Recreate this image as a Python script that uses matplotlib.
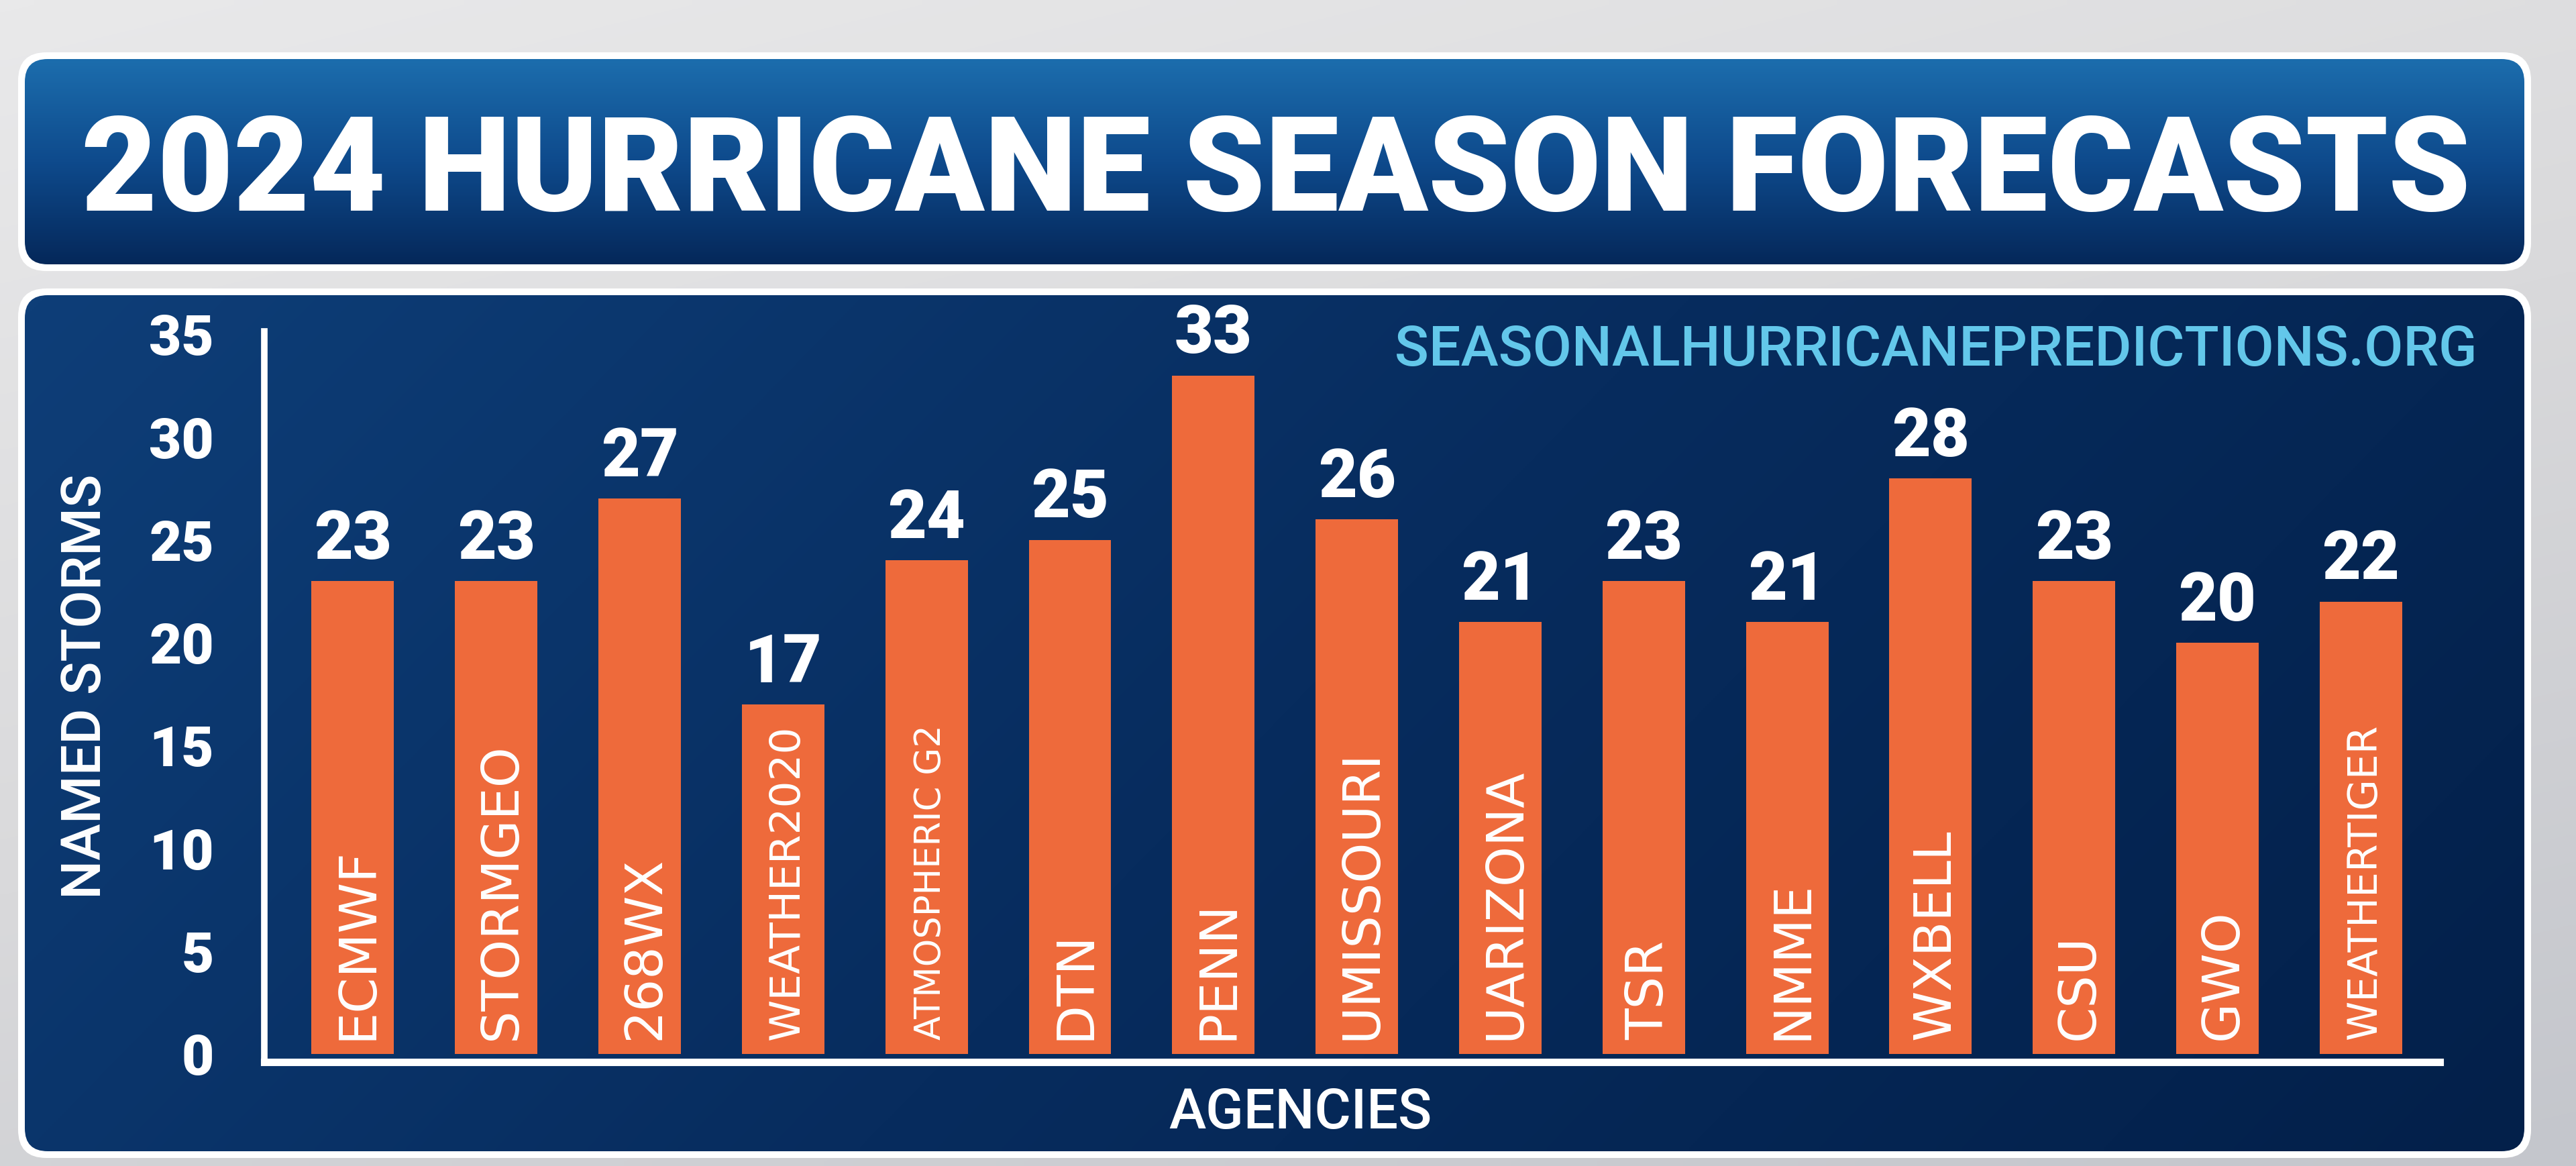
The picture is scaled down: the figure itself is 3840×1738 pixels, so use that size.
import matplotlib.pyplot as plt
import numpy as np
from matplotlib.colors import LinearSegmentedColormap
from matplotlib.patches import FancyBboxPatch

# DATA
agencies = ['ECMWF', 'STORMGEO', '268WX', 'WEATHER2020', 'ATMOSPHERIC G2', 'DTN', 'PENN',
            'UMISSOURI', 'UARIZONA', 'TSR', 'NMME', 'WXBELL', 'CSU', 'GWO', 'WEATHERTIGER']
named_storms = [23, 23, 27, 17, 24, 25, 33, 26, 21, 23, 21, 28, 23, 20, 22]
y_ticks = [0, 5, 10, 15, 20, 25, 30, 35]
title = '2024 HURRICANE SEASON FORECASTS'
source = 'SEASONALHURRICANEPREDICTIONS.ORG'

W, H = 3840, 1738
fig = plt.figure(figsize=(W / 100, H / 100), dpi=100)

# background layer in pixel coordinates (y downwards)
bg = fig.add_axes([0, 0, 1, 1], zorder=0)
bg.axis('off')


def grad_image(x0, y0, x1, y1, stops, wx, wy, clip=None, zorder=2):
    yy, xx = np.mgrid[0:1:120j, 0:1:240j]
    t = np.clip(wx * xx + wy * yy, 0, 1)
    cmap = LinearSegmentedColormap.from_list('g', stops)
    im = bg.imshow(t, cmap=cmap, vmin=0, vmax=1, extent=(x0, x1, y1, y0),
                   aspect='auto', interpolation='bilinear', zorder=zorder)
    if clip is not None:
        im.set_clip_path(clip)
    return im


def panel(x0, y0, x1, y1, stops, wx, wy):
    border = FancyBboxPatch((x0 - 10, y0 - 10), x1 - x0 + 20, y1 - y0 + 20,
                            boxstyle='round,pad=0,rounding_size=42',
                            fc='white', ec='none', zorder=1)
    bg.add_patch(border)
    clip = FancyBboxPatch((x0, y0), x1 - x0, y1 - y0,
                          boxstyle='round,pad=0,rounding_size=34',
                          fc='none', ec='none', zorder=2)
    bg.add_patch(clip)
    grad_image(x0, y0, x1, y1, stops, wx, wy, clip=clip)


# grey studio backdrop
grad_image(0, 0, W, H, ['#e9e9ea', '#d9d9db', '#c4c6cc'], 0.35, 0.65, zorder=0)

# title banner and chart panel
panel(37, 88, 3763, 394, ['#1c6dad', '#0e4a8c', '#05285a'], 0.0, 1.0)
panel(37, 440, 3763, 1716, ['#0e3e78', '#072c5e', '#03204a'], 0.75, 0.25)

bg.set_xlim(0, W)
bg.set_ylim(H, 0)

t_title = bg.text(1902, 314, title, ha='center', va='baseline', color='white',
                  fontsize=150, fontweight='black', family='Roboto', zorder=5)
t_source = bg.text(3693, 545, source, ha='right', va='baseline', color='#63c7ea',
                   fontsize=58, fontweight='medium', family='Roboto', zorder=5)
t_ylabel = bg.text(120, 1023, 'NAMED STORMS', rotation=90, rotation_mode='anchor',
                   ha='center', va='center_baseline', color='white',
                   fontsize=59, fontweight='medium', family='Roboto', zorder=5)
t_xlabel = bg.text(1938, 1682, 'AGENCIES', ha='center', va='baseline', color='white',
                   fontsize=59, fontweight='medium', family='Roboto', zorder=5)

# chart
ax = fig.add_axes([394 / W, 1 - 1583 / H, (3637 - 394) / W, (1583 - 494) / H], zorder=1)
ax.patch.set_alpha(0)
x = np.arange(len(agencies))
ax.bar(x, named_storms, width=0.575, color='#ee6a3b', zorder=2)
ax.set_xlim(-0.617, 14.55)
ax.set_ylim(-0.39, 35.14)

for side in ['top', 'right']:
    ax.spines[side].set_visible(False)
ax.spines['left'].set_color('white')
ax.spines['left'].set_linewidth(7)
ax.spines['bottom'].set_color('white')
ax.spines['bottom'].set_linewidth(8)

ax.set_xticks([])
ax.set_yticks(y_ticks)
ax.tick_params(axis='y', length=0, pad=54, labelsize=60, labelcolor='white')
for lbl in ax.get_yticklabels():
    lbl.set_family('Roboto')
    lbl.set_fontweight('black')

for i, v in enumerate(named_storms):
    ax.annotate(str(v), (i, v), xytext=(0, 24), textcoords='offset points',
                ha='center', va='baseline', color='white', fontsize=72,
                fontweight='black', family='Roboto')

bar_texts = []
for i, name in enumerate(agencies):
    bar_texts.append(ax.text(i, 0.69, name, rotation=90, rotation_mode='anchor',
                             ha='left', va='center_baseline', color='white',
                             fontsize=55, family='DejaVu Sans'))

# fit text sizes to the widths seen in the graphic
fig.canvas.draw()
r = fig.canvas.get_renderer()


def fit_width(txt, target):
    bb = txt.get_window_extent(r)
    txt.set_fontsize(txt.get_fontsize() * target / bb.width)


fit_width(t_title, 3562)
fit_width(t_source, 1613)
fit_width(t_xlabel, 393)
for t in bar_texts:
    bb = t.get_window_extent(r)
    if bb.height > 470:
        t.set_fontsize(t.get_fontsize() * 470 / bb.height)

fig.savefig('out.png', dpi=100)
plt.close()
